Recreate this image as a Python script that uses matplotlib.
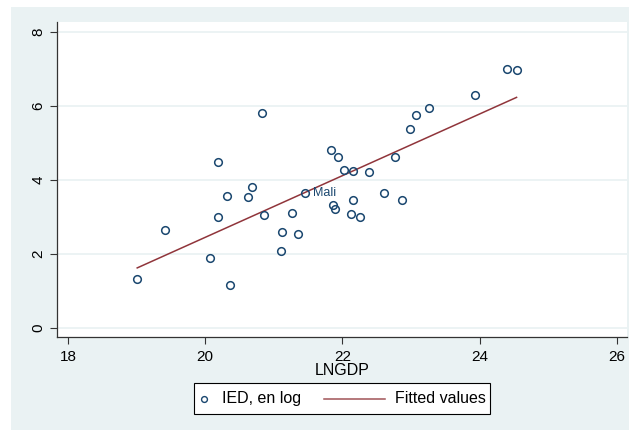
import numpy as np
import matplotlib
matplotlib.use("Agg")
import matplotlib.pyplot as plt
from matplotlib.patches import Rectangle
from matplotlib.lines import Line2D
from matplotlib.offsetbox import DrawingArea, TextArea, HPacker, AnchoredOffsetbox

# ---- data ----
lngdp = [20.83, 20.185, 21.84, 21.94, 20.685, 20.325, 20.62, 21.457, 20.185, 20.86,
         21.26, 21.87, 21.89,
         24.40, 24.54, 23.94, 23.26, 23.08, 22.98, 22.77, 22.02, 22.15, 22.39,
         22.61, 22.16, 22.865, 22.12, 22.26,
         19.41, 21.12, 21.36, 21.11, 20.07, 19.01, 20.36]
ied_log = [5.81, 4.49, 4.80, 4.62, 3.81, 3.56, 3.54, 3.63, 3.00, 3.05,
           3.11, 3.32, 3.20,
           6.99, 6.96, 6.29, 5.94, 5.76, 5.37, 4.62, 4.26, 4.24, 4.21,
           3.64, 3.45, 3.45, 3.07, 3.00,
           2.64, 2.59, 2.52, 2.08, 1.88, 1.32, 1.16]
labels = ["" for _ in lngdp]
labels[7] = "Mali"

x_ticks = [18, 20, 22, 24, 26]
y_ticks = [0, 2, 4, 6, 8]
x_label = "LNGDP"
series_names = ["IED, en log", "Fitted values"]

# ---- style ----
FONT = ["Liberation Sans", "DejaVu Sans"]
plt.rcParams["font.family"] = FONT
BG = "#eaf2f3"
MARK = "#1a476f"
FITC = "#90353b"

W, H = 629, 430
fig = plt.figure(figsize=(W / 100, H / 100), dpi=100)
fig.patch.set_facecolor("white")
# graph region background
fig.add_artist(Rectangle((11 / W, 0), 1 - 11 / W, 1 - 7 / H, transform=fig.transFigure,
                         facecolor=BG, edgecolor="none", zorder=-10))

ax = fig.add_axes([57.3 / W, 1 - 337 / H, (627 - 57.3) / W, (337 - 22) / H])
ax.set_facecolor("white")
ax.set_xlim(17.845, 26.15)
ax.set_ylim(-0.25, 8.26)

for s in ["top", "right"]:
    ax.spines[s].set_visible(False)
for s in ["left", "bottom"]:
    ax.spines[s].set_color("#333333")
    ax.spines[s].set_linewidth(0.9)

ax.set_yticks(y_ticks)
ax.set_xticks(x_ticks)
ax.tick_params(axis="both", direction="out", length=5, width=0.8, color="#333333",
               labelsize=11, labelcolor="black")
ax.tick_params(axis="x", pad=4.5)
ax.tick_params(axis="y", pad=3.5)
for lab in ax.get_yticklabels():
    lab.set_rotation(90)
    lab.set_va("center")
ax.yaxis.grid(True, color=BG, linewidth=1.3)
ax.set_axisbelow(True)
ax.set_xlabel(x_label, fontsize=11.5, labelpad=-1)

xa = np.array(lngdp)
ya = np.array(ied_log)
ax.plot(xa, ya, linestyle="none", marker="o", markersize=5.5, markerfacecolor="none",
        markeredgecolor=MARK, markeredgewidth=1.1, zorder=3)
for xi, yi, lb in zip(lngdp, ied_log, labels):
    if lb:
        ax.annotate(lb, (xi, yi), xytext=(5.5, 0), textcoords="offset points",
                    ha="left", va="center", fontsize=9, color=MARK)

b, a = np.polyfit(xa, ya, 1)
xf = np.array([xa.min(), xa.max()])
ax.plot(xf, a + b * xf, color=FITC, linewidth=1.1, zorder=2)

# ---- legend ----
da1 = DrawingArea(9, 16, 0, 0)
da1.add_artist(Line2D([4.5], [8], marker="o", markersize=4.2, markerfacecolor="none",
                      markeredgecolor=MARK, markeredgewidth=1.0, linestyle="none"))
t1 = TextArea(series_names[0], textprops=dict(size=11.5, family=FONT))
da2 = DrawingArea(44, 16, 0, 0)
da2.add_artist(Line2D([0, 44], [8, 8], color=FITC, linewidth=1.1, alpha=0.85))
t2 = TextArea(series_names[1], textprops=dict(size=11.5, family=FONT))
box = HPacker(children=[HPacker(children=[da1, t1], sep=8, align="center", pad=0),
                        HPacker(children=[da2, t2], sep=7, align="center", pad=0)],
              sep=17, align="center", pad=0)
anch = AnchoredOffsetbox(loc="center", child=box, pad=0.3, borderpad=0, frameon=True,
                         bbox_to_anchor=(342 / W, 1 - 398.5 / H),
                         bbox_transform=fig.transFigure)
anch.patch.set_boxstyle("square", pad=0)
anch.patch.set_edgecolor("black")
anch.patch.set_linewidth(0.8)
fig.add_artist(anch)

fig.savefig("out.png", dpi=100, facecolor=fig.get_facecolor())
